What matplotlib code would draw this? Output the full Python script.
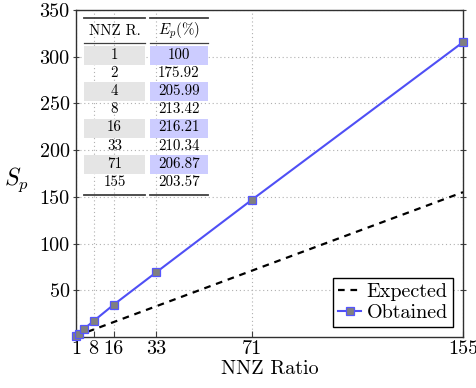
import matplotlib
matplotlib.use("Agg")
import matplotlib.pyplot as plt
from matplotlib.patches import Rectangle
from matplotlib.lines import Line2D

plt.rcParams['font.family'] = ['cmr10', 'DejaVu Serif']
plt.rcParams['mathtext.fontset'] = 'cm'
plt.rcParams['axes.unicode_minus'] = False
plt.rcParams['axes.formatter.use_mathtext'] = True

# data
nnz_ratio = [1, 2, 4, 8, 16, 33, 71, 155]
expected = [1, 2, 4, 8, 16, 33, 71, 155]
obtained = [1.0, 3.52, 8.24, 17.07, 34.59, 69.41, 146.88, 315.53]
efficiency = ["100", "175.92", "205.99", "213.42", "216.21", "210.34", "206.87", "203.57"]
nnz_labels = ["1", "2", "4", "8", "16", "33", "71", "155"]
xticks = [1, 8, 16, 33, 71, 155]
yticks = [50, 100, 150, 200, 250, 300, 350]

W, H = 477, 388
fig = plt.figure(figsize=(W / 100, H / 100), dpi=100)
ax = fig.add_axes([76 / W, 1 - 337 / H, (463 - 76) / W, (337 - 10) / H])

ax.plot(nnz_ratio, expected, color='black', linestyle=(0, (3, 2.6)), linewidth=1.6,
        label='Expected', zorder=3)
ax.plot(nnz_ratio, obtained, color='#4f4ff5', linewidth=1.5, marker='s', markersize=5.5,
        markerfacecolor='#808080', markeredgecolor='#5555ff', markeredgewidth=0.9,
        label='Obtained', zorder=4, clip_on=False)

ax.set_xlim(1, 155)
ax.set_ylim(0, 350)
ax.set_xticks(xticks)
ax.set_xticklabels([str(v) for v in xticks])
ax.set_yticks(yticks)
ax.set_yticklabels([str(v) for v in yticks])
ax.grid(True, linestyle=(0, (1, 2.5)), color='#b0b0b0', linewidth=0.8)
ax.set_axisbelow(True)
ax.tick_params(axis='both', labelsize=14.5, length=4, width=0.8, color='#404040', pad=2)
ax.tick_params(axis='y', direction='inout', right=True, length=5)
ax.tick_params(axis='x', direction='in', top=False)
for s in ax.spines.values():
    s.set_linewidth(1.0)
    s.set_color('#303030')

ax.set_xlabel('NNZ Ratio', fontsize=14.5, labelpad=2)
ax.set_ylabel(r'$S_p$', fontsize=17, rotation=0, va='center', ha='center')
ax.yaxis.set_label_coords(-0.155, 0.48)

leg = ax.legend(loc='lower right', fontsize=14.5, frameon=True, fancybox=False,
                edgecolor='black', framealpha=1, borderpad=0.25, handlelength=1.1,
                handletextpad=0.3, labelspacing=0.15, borderaxespad=0.5)
leg.get_frame().set_linewidth(1.0)

# table drawn in figure pixel coordinates
def fx(px):
    return px / W

def fy(py):
    return 1 - py / H

c1 = (84, 145)
c2 = (150, 208)
top_rule = 17.5
mid_rule = 42.7
bot_rule = 195
row0 = 45.8
pitch = 18.2
tsize = 10.8

for (a, b) in (c1, c2):
    for yy, lw in ((top_rule, 1.3), (mid_rule, 0.9), (bot_rule, 1.3)):
        fig.add_artist(Line2D([fx(a), fx(b)], [fy(yy), fy(yy)], color='#404040',
                              linewidth=lw, transform=fig.transFigure))

fig.text(fx((c1[0] + c1[1]) / 2), fy(31), 'NNZ R.', ha='center', va='center', fontsize=tsize)
fig.text(fx((c2[0] + c2[1]) / 2), fy(31), r'$E_p$(%)', ha='center', va='center', fontsize=tsize)

for i, (n, e) in enumerate(zip(nnz_labels, efficiency)):
    top = row0 + i * pitch
    if i % 2 == 0:
        fig.add_artist(Rectangle((fx(c1[0]), fy(top + 19)), fx(c1[1] - c1[0]), 19 / H,
                                 facecolor='#e5e5e5', edgecolor='none', transform=fig.transFigure,
                                 zorder=1))
        fig.add_artist(Rectangle((fx(c2[0]), fy(top + 19)), fx(c2[1] - c2[0]), 19 / H,
                                 facecolor='#ccccff', edgecolor='none', transform=fig.transFigure,
                                 zorder=1))
    cy = top + 9
    fig.text(fx((c1[0] + c1[1]) / 2), fy(cy), n, ha='center', va='center', fontsize=tsize, zorder=2)
    fig.text(fx((c2[0] + c2[1]) / 2), fy(cy), e, ha='center', va='center', fontsize=tsize, zorder=2)

fig.savefig('out.png', dpi=100)
